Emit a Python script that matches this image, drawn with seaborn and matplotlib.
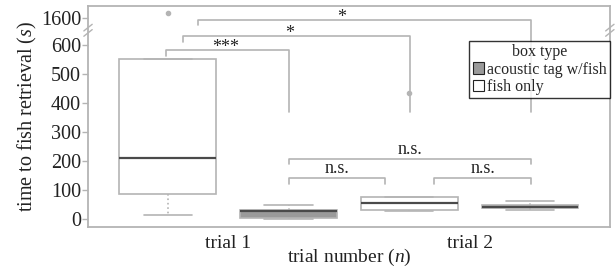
import numpy as np
import pandas as pd
import matplotlib
matplotlib.use('Agg')
import matplotlib.pyplot as plt
import seaborn as sns
from matplotlib.patches import Patch

# valores (tiempo en s)
trials = ['trial 1', 'trial 2']
box_types = ['fish only', 'acoustic tag w/fish']
trial1_fish_only = [15, 87, 210, 550, 1900]
trial1_tag = [0, 5, 30, 33, 50]
trial2_fish_only = [29, 31, 56, 78, 434]
trial2_tag = [33, 38, 44, 50, 63]

y_ticks = [0, 100, 200, 300, 400, 500, 600, 1600]
sig_labels = ['***', '*', '*', 'n.s.', 'n.s.', 'n.s.']

# tabla larga para seaborn
rows = []
for trial, fish, tag in [(trials[0], trial1_fish_only, trial1_tag),
                         (trials[1], trial2_fish_only, trial2_tag)]:
    rows += [(trial, box_types[0], v) for v in fish]
    rows += [(trial, box_types[1], v) for v in tag]
df = pd.DataFrame(rows, columns=['trial', 'box type', 'time'])

# eje y cortado: lineal hasta BREAK, comprimido por encima
BREAK = 640
SQUEEZE = 0.0552

def fwd(y):
    y = np.asarray(y, dtype=float)
    return np.where(y <= BREAK, y, BREAK + (y - BREAK) * SQUEEZE)

def inv(y):
    y = np.asarray(y, dtype=float)
    return np.where(y <= BREAK, y, BREAK + (y - BREAK) / SQUEEZE)

sns.set_style('white')
plt.rcParams['font.family'] = ['Liberation Serif', 'DejaVu Serif']
plt.rcParams['mathtext.fontset'] = 'custom'
plt.rcParams['mathtext.rm'] = 'Liberation Serif'
plt.rcParams['mathtext.it'] = 'Liberation Serif:italic'

palette = {'fish only': 'white', 'acoustic tag w/fish': '#9a9a9a'}
light = '#b4b4b4'
ink = '#222222'

fig = plt.figure(figsize=(6.16, 2.70), dpi=100)
ax = fig.add_axes([0.1429, 0.159, 0.8471, 0.819])

sns.boxplot(data=df, x='trial', y='time', hue='box type', order=trials,
            hue_order=box_types, palette=palette, width=1.0, gap=0.2,
            linecolor=light, linewidth=1.2, legend=False, ax=ax,
            medianprops={'color': '#4a4a4a', 'linewidth': 1.6},
            whiskerprops={'color': light, 'linestyle': ':'},
            capprops={'color': light},
            flierprops={'marker': 'o', 'markersize': 3,
                        'markerfacecolor': light, 'markeredgecolor': light})

ax.set_yscale('function', functions=(fwd, inv))
ax.set_ylim(-26.5, 2343)
ax.set_xlim(-0.58, 1.58)
ax.set_yticks(y_ticks)
ax.set_yticklabels([str(t) for t in y_ticks])
ax.tick_params(axis='y', left=True, length=4, width=1, color=light,
               labelsize=14.5, pad=1, labelcolor=ink)
ax.tick_params(axis='x', length=0, labelsize=14, pad=6, labelcolor=ink)
ax.set_xlabel('trial number ($n$)', fontsize=14, labelpad=-4, color=ink)
ax.set_ylabel('time to fish retrieval ($s$)', fontsize=14.5, labelpad=1,
              color=ink)
for sp in ax.spines.values():
    sp.set_color(light)
    sp.set_linewidth(1.3)

# marcas de corte
for xa in (0.0, 1.0):
    for dy in (-0.012, 0.012):
        ax.plot([xa - 0.008, xa + 0.008], [0.875 + dy, 0.905 + dy],
                transform=ax.transAxes, color=light, lw=1, clip_on=False)

# corchetes de significancia: (x1, x2, y, fin izq, fin der, x texto)
brackets = [
    (-0.258, 0.25, 583, 562, 369, -0.01),
    (-0.188, 0.754, 631, 610, 369, 0.254),
    (-0.126, 1.254, 1473, 1165, 369, 0.469),
    (0.25, 1.254, 207, 190, 190, 0.754),
    (0.25, 0.651, 141, 121, 121, 0.45),
    (0.853, 1.254, 141, 121, 121, 1.053),
]
for (x1, x2, y, yl, yr, xt), lab in zip(brackets, sig_labels):
    ax.plot([x1, x1, x2, x2], [yl, y, y, yr], color=light, lw=1.2)
    dy = -4.5 if lab.startswith('*') else 1
    ax.annotate(lab, (xt, y), xytext=(0, dy), textcoords='offset points',
                ha='center', va='bottom', fontsize=13, color=ink)

handles = [Patch(facecolor=palette[b], edgecolor=ink, linewidth=0.8)
           for b in box_types[::-1]]
leg = ax.legend(handles, box_types[::-1], title='box type', loc='upper right',
                bbox_to_anchor=(1.0, 0.842), borderaxespad=0, fontsize=11.5,
                title_fontsize=11.5, fancybox=False, frameon=True,
                handlelength=0.7, handleheight=0.7, handletextpad=0.2,
                borderpad=0.2, labelspacing=0.1)
leg.get_frame().set_edgecolor('black')
leg.get_frame().set_linewidth(1)

fig.savefig('out.png', dpi=100)
